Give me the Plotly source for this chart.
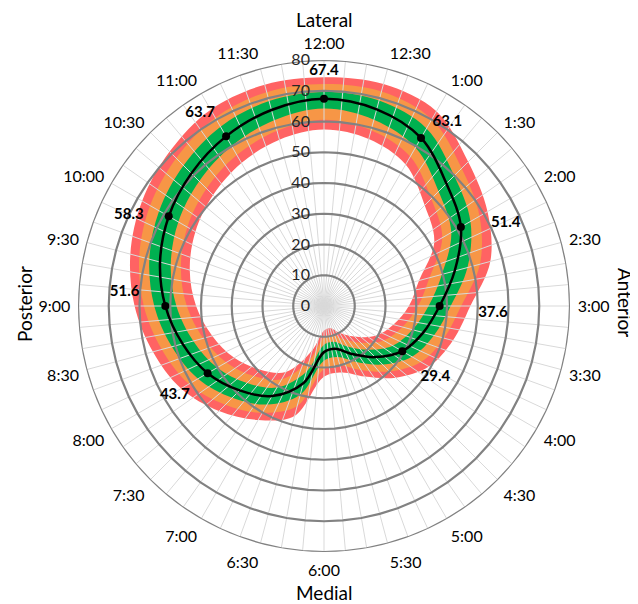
import plotly.graph_objects as go

# ---------------- data ----------------
angles = [0, 15, 30, 45, 60, 75, 90, 105, 120, 135, 150, 165,
          180, 195, 210, 225, 240, 255, 270, 285, 300, 315, 330, 345]
clock_labels = ["12:00", "12:30", "1:00", "1:30", "2:00", "2:30", "3:00", "3:30",
                "4:00", "4:30", "5:00", "5:30", "6:00", "6:30", "7:00", "7:30",
                "8:00", "8:30", "9:00", "9:30", "10:00", "10:30", "11:00", "11:30"]

mean_line = [67.4, 66.2, 63.1, 56.3, 51.4, 44.0, 37.6, 33.4, 29.4, 23.5, 18.0, 14.4,
             15.0, 26.0, 33.8, 38.8, 43.7, 47.6, 51.6, 55.2, 58.3, 61.0, 63.7, 66.0]

red_outer = [74.4, 74.7, 73.1, 66.3, 61.4, 56.0, 47.6, 43.4, 39.4, 33.0, 26.5, 22.4,
             23.0, 37.0, 42.8, 48.3, 53.7, 57.6, 61.6, 65.2, 68.3, 71.0, 73.7, 74.5]
orange_outer = [72.2, 72.2, 70.1, 63.3, 58.4, 52.5, 44.6, 40.4, 36.4, 30.1, 24.0, 20.0,
                20.6, 33.7, 40.1, 45.4, 50.7, 54.6, 58.6, 62.2, 65.3, 68.0, 70.7, 72.0]
green_outer = [69.6, 69.2, 66.7, 59.9, 55.0, 48.3, 41.2, 37.0, 33.0, 26.9, 21.0, 17.2,
               17.8, 29.9, 37.0, 42.2, 47.3, 51.2, 55.2, 58.8, 61.9, 64.6, 67.3, 69.0]
green_inner = [64.2, 62.7, 59.5, 52.7, 47.8, 39.7, 34.0, 29.8, 25.8, 20.1, 15.2, 12.0,
               12.6, 22.1, 30.6, 35.4, 40.1, 44.0, 48.0, 51.6, 54.7, 57.4, 60.1, 62.5]
orange_inner = [60.6, 59.2, 56.1, 49.3, 44.4, 35.5, 30.6, 26.4, 22.4, 16.9, 12.4, 9.6,
                10.2, 18.3, 27.5, 32.2, 36.7, 40.6, 44.6, 48.2, 51.3, 54.0, 56.7, 59.0]
red_inner = [57.4, 56.2, 53.1, 46.3, 41.4, 32.0, 27.6, 23.4, 19.4, 14.0, 10.0, 7.4,
             8.0, 15.0, 24.8, 29.3, 33.7, 37.6, 41.6, 45.2, 48.3, 51.0, 53.7, 56.0]

marker_angles = [0, 30, 60, 90, 120, 240, 270, 300, 330]
marker_values = [67.4, 63.1, 51.4, 37.6, 29.4, 43.7, 51.6, 58.3, 63.7]

radial_ticks = [0, 10, 20, 30, 40, 50, 60, 70, 80]

# ---------------- style ----------------
RED = "#ff6363"
ORANGE = "#f79646"
GREEN = "#00b050"
RING = "#828282"
SPOKE = "#d9d9d9"
FONT = "Lato"

# label placement (offsets from each marker, in axis units / degrees)
label_dr = [8.8, 9.0, 13.6, 17.4, 13.6, 12.8, 13.4, 11.7, 10.9]
label_dth = [0, 3.8, 5.4, 2.4, 2.6, -0.8, 4.0, -5.0, -2.7]

fig = go.Figure()


def closed(a):
    return list(a) + [a[0]]


band_order = [(red_outer, RED), (orange_outer, ORANGE), (green_outer, GREEN),
              (green_inner, ORANGE), (orange_inner, RED), (red_inner, "white")]
for vals, col in band_order:
    fig.add_trace(go.Scatterpolar(
        r=closed(vals), theta=closed(angles), mode="lines",
        line=dict(color=col, width=0, shape="spline", smoothing=1),
        fill="toself", fillcolor=col, hoverinfo="skip", showlegend=False))

# grid drawn above the bands (spokes every 5 deg, polygonal rings)
spoke_r, spoke_t = [], []
for a in range(0, 360, 5):
    spoke_r += [0, 80, None]
    spoke_t += [a, a, None]
fig.add_trace(go.Scatterpolar(r=spoke_r, theta=spoke_t, mode="lines",
                              line=dict(color=SPOKE, width=1),
                              hoverinfo="skip", showlegend=False, cliponaxis=False))
ring_r, ring_t = [], []
for rv in radial_ticks[1:]:
    for a in range(0, 365, 5):
        ring_r.append(rv)
        ring_t.append(a)
    ring_r.append(None)
    ring_t.append(None)
fig.add_trace(go.Scatterpolar(r=ring_r, theta=ring_t, mode="lines",
                              line=dict(color=RING, width=2.2),
                              hoverinfo="skip", showlegend=False, cliponaxis=False))

# mean line
fig.add_trace(go.Scatterpolar(
    r=closed(mean_line), theta=closed(angles), mode="lines",
    line=dict(color="black", width=2.5, shape="spline", smoothing=1),
    hoverinfo="skip", showlegend=False))
fig.add_trace(go.Scatterpolar(
    r=marker_values, theta=marker_angles, mode="markers",
    marker=dict(color="black", size=8), showlegend=False))
fig.add_trace(go.Scatterpolar(
    r=[v + d for v, d in zip(marker_values, label_dr)],
    theta=[a + d for a, d in zip(marker_angles, label_dth)],
    mode="text", text=[f"{v:.1f}" for v in marker_values],
    textfont=dict(family=FONT, size=15, color="black", weight="bold"),
    showlegend=False, cliponaxis=False))

# page body has an 8px margin: figure coords = screen coords - 8
OFF = 8
W, H = 630, 596
cx, cy, R = 324 - OFF, 306 - OFF, 246


def px(x):
    return (x - OFF) / W


def py(y):
    return 1 - (y - OFF) / H


title_font = dict(family=FONT, size=19, color="black")
fig.update_layout(
    width=W, height=H, margin=dict(l=0, r=0, t=0, b=0),
    paper_bgcolor="white", plot_bgcolor="white", showlegend=False,
    font=dict(family=FONT, color="black"),
    polar=dict(
        domain=dict(x=[(cx - R) / W, (cx + R) / W],
                    y=[(H - cy - R) / H, (H - cy + R) / H]),
        bgcolor="white",
        angularaxis=dict(
            rotation=90, direction="clockwise", thetaunit="degrees",
            tickmode="array", tickvals=angles, ticktext=clock_labels,
            showgrid=False, showline=False, ticks="outside", ticklen=4,
            tickcolor="rgba(0,0,0,0)",
            tickfont=dict(family=FONT, size=16, color="black")),
        radialaxis=dict(
            range=[0, 80], tickmode="array", tickvals=radial_ticks,
            showgrid=False, showline=False, ticks="outside", ticklen=8,
            tickcolor="rgba(0,0,0,0)", angle=90,
            side="counterclockwise", tickangle=90,
            tickfont=dict(family=FONT, size=16, color="#262626")),
    ),
    annotations=[
        dict(text="Lateral", x=px(324), y=py(20), xref="paper", yref="paper",
             xanchor="center", yanchor="middle", showarrow=False, font=title_font),
        dict(text="Medial", x=px(324), y=py(592), xref="paper", yref="paper",
             xanchor="center", yanchor="middle", showarrow=False, font=title_font),
        dict(text="Posterior", x=px(25), y=py(304), xref="paper", yref="paper",
             xanchor="center", yanchor="middle", showarrow=False, textangle=-90,
             font=title_font),
        dict(text="Anterior", x=px(626), y=py(302), xref="paper", yref="paper",
             xanchor="center", yanchor="middle", showarrow=False, textangle=90,
             font=title_font),
    ],
)

fig.write_html("out.html")
